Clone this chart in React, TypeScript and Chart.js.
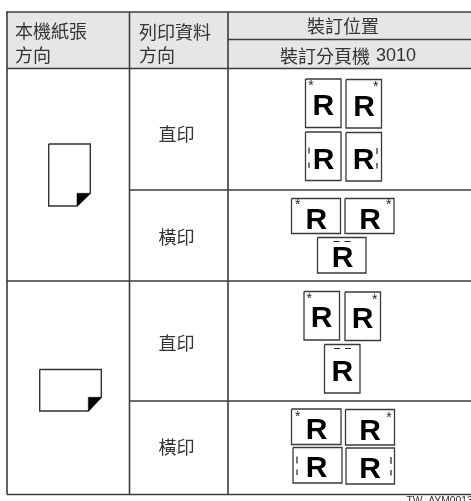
import React, { useEffect, useRef } from "react";
import { Chart, registerables } from "chart.js";

Chart.register(...registerables);

const CJK = '"Noto Sans CJK TC", "Noto Sans", sans-serif';
const LATIN = '"Liberation Sans", Arial, sans-serif';

type Seg = [number, number, number, number];

const headerBoxes: Seg[] = [[7, 12, 471, 68.5]];
const ruleSegments: Seg[] = [
  [6, 12, 471, 12],
  [228, 39.5, 471, 39.5],
  [7, 68.5, 471, 68.5],
  [129.5, 190, 471, 190],
  [7, 281, 471, 281],
  [129.5, 401, 471, 401],
  [7, 494.5, 471, 494.5],
  [7, 12, 7, 494.5],
  [129.5, 12, 129.5, 494.5],
  [228, 12, 228, 494.5],
];

const sheets: Seg[] = [
  [305.5, 79, 341, 127.5],
  [346, 79.5, 381.5, 128],
  [305.5, 132, 341, 180.5],
  [346, 132.5, 381.5, 181],
  [291.5, 198.5, 340.5, 233.5],
  [345, 198.5, 394, 233.5],
  [317.5, 237.5, 366, 273],
  [304, 291.5, 339.5, 340],
  [345, 292, 380.5, 340.5],
  [324.5, 344.5, 360, 393],
  [291.5, 409, 341, 444.5],
  [345.5, 409.5, 394.5, 445],
  [293, 447.5, 342, 483],
  [346, 448, 394.5, 484],
];

const letterX = [323.3, 364, 323.7, 363.5, 316.3, 370, 342.7, 321.7, 362.7, 342.3, 316.5, 370, 316.7, 370];
const letterY = [107, 107.5, 160.5, 160.5, 220.5, 220.5, 259, 319, 320, 373, 430.5, 431.5, 469, 469.5];

const starX = [311, 375.7, 297.7, 388.7, 309.3, 374.7, 297.7, 389];
const starY = [86.5, 87, 205.5, 205.5, 299.5, 300, 417.5, 418];

const punchMarks: Seg[] = [
  [309, 147.5, 309, 153.5],
  [309, 162.5, 309, 168],
  [377, 148, 377, 154],
  [377, 163, 377, 168.5],
  [333.5, 241.5, 339.5, 241.5],
  [344.5, 241.5, 350.5, 241.5],
  [334, 348.5, 340, 348.5],
  [345, 348.5, 351, 348.5],
  [297, 456.5, 297, 463.5],
  [297, 469.5, 297, 475],
  [391, 457, 391, 464],
  [391, 470, 391, 475.5],
];

const paperOutlines: number[][] = [
  [48.7, 144, 90.3, 144, 90.3, 193.3, 77, 206, 48.7, 206, 48.7, 144],
  [39.7, 369.5, 101.3, 369.5, 101.3, 397.3, 88.3, 411, 39.7, 411, 39.7, 369.5],
];
const paperFolds: number[][] = [
  [77, 206, 77, 193.3, 90.3, 193.3, 77, 206],
  [88.3, 411, 88.3, 397.3, 101.3, 397.3, 88.3, 411],
];

const labelTexts = ["本機紙張", "方向", "列印資料", "方向", "裝訂位置", "直印", "橫印", "直印", "橫印"];
const labelX = [15, 15, 139, 139, 343, 176.5, 176.5, 176.5, 176.5];
const labelY = [31.5, 55.5, 32, 55.5, 26, 134, 237, 343, 447];
const labelAlign: CanvasTextAlign[] = ["left", "left", "left", "left", "center", "center", "center", "center", "center"];

const stapleTitle = "裝訂分頁機";
const stapleModel = "3010";
const figureCode = "TW_AYM0013";

const path = (flat: number[]) => {
  const out: { x: number; y: number }[] = [];
  for (let i = 0; i < flat.length; i += 2) out.push({ x: flat[i], y: flat[i + 1] });
  return out;
};
const box = ([a, b, c, d]: Seg) => path([a, b, c, b, c, d, a, d, a, b]);
const join = (parts: { x: number; y: number }[][]) => {
  const out: any[] = [];
  parts.forEach((p) => {
    out.push(...p, { x: null, y: null });
  });
  return out;
};
const seg = ([a, b, c, d]: Seg) => path([a, b, c, d]);

const textPlugin = {
  id: "diagramText",
  afterDatasetsDraw(chart: any) {
    const { ctx, scales } = chart;
    const X = (v: number) => scales.x.getPixelForValue(v);
    const Y = (v: number) => scales.y.getPixelForValue(v);
    ctx.save();
    ctx.fillStyle = "#333333";
    ctx.textBaseline = "middle";
    ctx.font = `18px ${CJK}`;
    labelTexts.forEach((t, i) => {
      ctx.textAlign = labelAlign[i];
      ctx.fillText(t, X(labelX[i]), Y(labelY[i]));
    });
    ctx.textAlign = "left";
    ctx.fillText(stapleTitle, X(280), Y(56));
    ctx.font = `18px ${LATIN}`;
    ctx.fillText(stapleModel, X(376), Y(56.5));

    ctx.fillStyle = "#000";
    ctx.textAlign = "center";
    ctx.font = `bold 30px ${LATIN}`;
    letterX.forEach((x, i) => ctx.fillText("R", X(x), Y(letterY[i])));
    ctx.font = `14px ${LATIN}`;
    ctx.fillStyle = "#222";
    starX.forEach((x, i) => ctx.fillText("*", X(x), Y(starY[i])));

    ctx.textAlign = "left";
    ctx.textBaseline = "alphabetic";
    ctx.font = `10.3px ${LATIN}`;
    ctx.fillStyle = "#333";
    ctx.fillText(figureCode, X(406.5), Y(503.5));
    ctx.restore();
  },
};

export default function App() {
  const ref = useRef<HTMLCanvasElement>(null);
  useEffect(() => {
    document.body.style.margin = "0";
    document.body.style.background = "#fff";
    const base = { pointRadius: 0, tension: 0, showLine: true, spanGaps: false };
    const chart = new Chart(ref.current as HTMLCanvasElement, {
      type: "scatter",
      data: {
        datasets: [
          {
            ...base,
            label: "header",
            data: box(headerBoxes[0]),
            backgroundColor: "#e6e6e6",
            borderWidth: 0,
            fill: "shape",
            order: 6,
          },
          {
            ...base,
            label: "rules",
            data: join(ruleSegments.map(seg)),
            borderColor: "#3c3c3c",
            borderWidth: 1.6,
            order: 5,
          },
          {
            ...base,
            label: "sheets",
            data: join(sheets.map(box)),
            borderColor: "#3a3a3a",
            borderWidth: 1.3,
            order: 4,
          },
          {
            ...base,
            label: "punch",
            data: join(punchMarks.map(seg)),
            borderColor: "#222",
            borderWidth: 1.2,
            order: 3,
          },
          {
            ...base,
            label: "paper",
            data: join(paperOutlines.map(path)),
            borderColor: "#333",
            borderWidth: 1.4,
            order: 2,
          },
          ...paperFolds.map((f, i) => ({
            ...base,
            label: `fold${i}`,
            data: path(f),
            backgroundColor: "#000",
            borderColor: "#000",
            borderWidth: 0.5,
            fill: "shape",
            order: 1,
          })),
        ] as any,
      },
      options: {
        animation: false,
        responsive: false,
        maintainAspectRatio: false,
        layout: { padding: 0 },
        plugins: { legend: { display: false }, tooltip: { enabled: false } },
        scales: {
          x: { type: "linear", min: 0, max: 471, display: false },
          y: { type: "linear", min: 0, max: 501, reverse: true, display: false },
        },
      },
      plugins: [textPlugin],
    });
    return () => chart.destroy();
  }, []);
  return <canvas ref={ref} width={471} height={501} style={{ display: "block" }} />;
}
